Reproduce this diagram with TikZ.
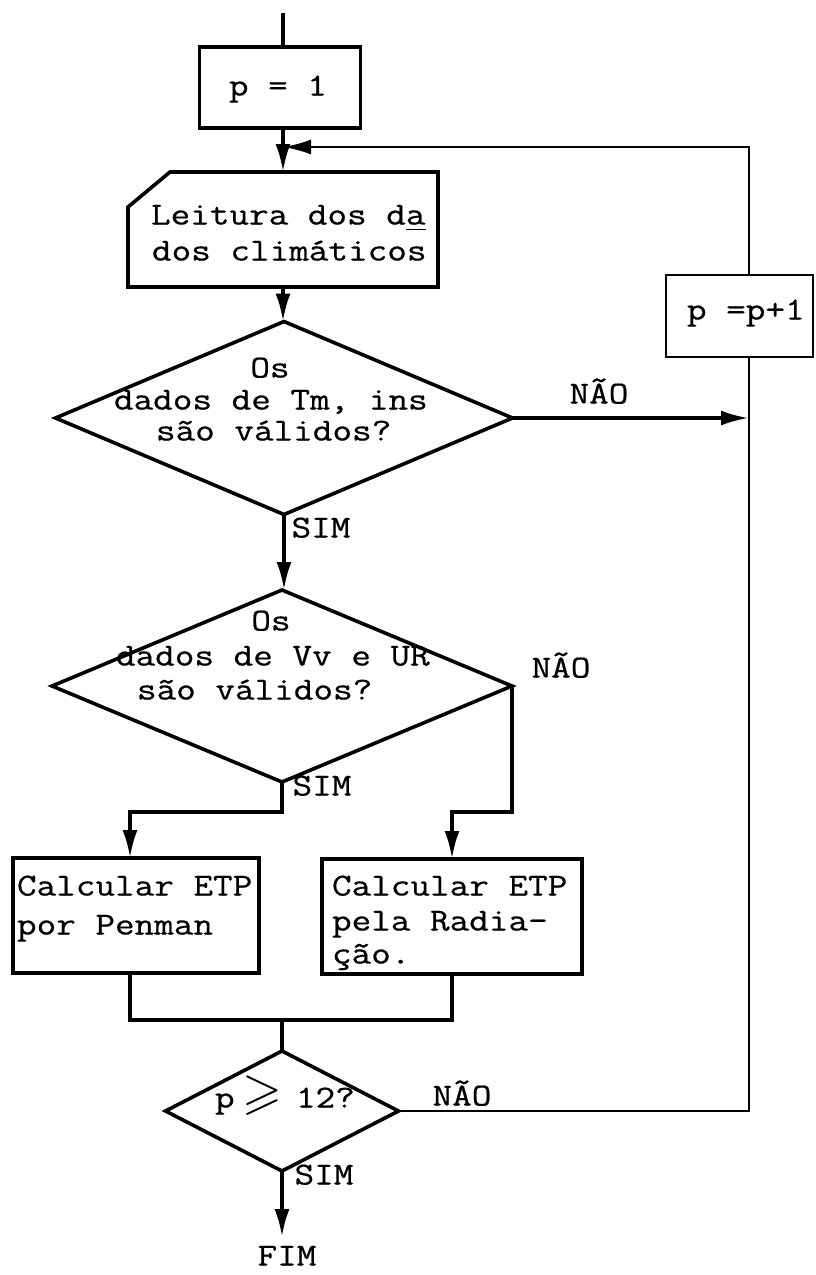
\documentclass[tikz,border=0pt]{standalone}
\usepackage{amssymb}
\usepackage{fontspec}
\newfontfamily\tw{Latin Modern Mono}[FakeStretch=1.19,FakeBold=0.6]
\usetikzlibrary{shapes.geometric,arrows.meta}
\begin{document}
\begin{tikzpicture}[x=1pt,y=-1pt,
  line width=3.6pt,
  every node/.style={inner sep=0pt, outer sep=0pt},
  txt/.style={font=\tw\fontsize{32}{33}\selectfont, text height=0.5em, text depth=0pt},
  procbox/.style={draw, rectangle},
  decision/.style={draw, diamond},
  conn/.style={line width=3.6pt},
  thin conn/.style={line width=2.6pt},
  arr/.style={-{Latex[length=28pt,width=15pt]}}
]
\useasboundingbox (0,0) rectangle (816,1275);

% shapes
\node[procbox, minimum width=161pt, minimum height=81pt] (p1) at (280,87.5) {};
\node[minimum width=310pt, minimum height=115pt] (leitura) at (283,229.5) {};
\draw (leitura.south west) -- ([yshift=-35pt]leitura.north west) -- ([xshift=42pt]leitura.north west)
      -- (leitura.north east) -- (leitura.south east) -- cycle;
\node[decision, minimum width=457pt, minimum height=193pt] (d1) at (284,418) {};
\node[decision, minimum width=460pt, minimum height=192pt] (d2) at (282,686) {};
\node[procbox, minimum width=246pt, minimum height=115pt] (penman) at (136,915.5) {};
\node[procbox, minimum width=260pt, minimum height=115pt] (rad) at (452,916.5) {};
\node[decision, minimum width=233pt, minimum height=120pt] (d3) at (282,1111) {};
\node[procbox, thin conn, minimum width=147pt, minimum height=82pt] (pp1) at (739.5,316) {};

% coordinates
\coordinate (start) at (283,13);
\coordinate (join) at (283,147);
\coordinate (lt) at (749,147);
\coordinate (branchy) at (0,812);
\coordinate (mergey) at (0,1020);
\coordinate (endpt) at (282,1237);

% texts
\node[txt] (t1) at (278,93) {p = 1};
\node[txt, anchor=west] (t2a) at (151,222) {Leitura dos d\underline{a}};
\node[txt, anchor=west] (t2b) at (152,258) {dos climáticos};
\node[txt] (t3a) at (270,375) {Os};
\node[txt, anchor=west] (t3b) at (114,407) {dados de Tm, ins};
\node[txt, anchor=west] (t3c) at (156,438) {são válidos?};
\node[txt] (t4a) at (271,628) {Os};
\node[txt, anchor=west] (t4b) at (116,663) {dados de Vv e UR};
\node[txt, anchor=west] (t4c) at (137,697) {são válidos?};
\node[txt, anchor=west] (t5a) at (17,893) {Calcular ETP};
\node[txt, anchor=west] (t5b) at (17,932) {por Penman};
\node[txt, anchor=west] (t6a) at (332,893) {Calcular ETP};
\node[txt, anchor=west] (t6b) at (332,928) {pela Radia-};
\node[txt, anchor=west] (t6c) at (332,961) {ção.};
\node[txt, anchor=west] (t7a) at (215,1105) {p};
\node[txt] (t7b) at (262,1106) {\scalebox{1.6}{$\geqslant$}};
\node[txt, anchor=west] (t7c) at (296,1105) {12?};
\node[txt, anchor=west] (t8) at (687,317) {p =p+1};
\node[txt] (nao1) at (599,401) {NÃO};
\node[txt] (nao2) at (561,675) {NÃO};
\node[txt] (nao3) at (462,1103) {NÃO};
\node[txt] (sim1) at (321,535) {SIM};
\node[txt] (sim2) at (322,793) {SIM};
\node[txt] (sim3) at (324,1182) {SIM};
\node[txt] (fim) at (287,1263) {FIM};

% connectors
\draw[line width=4.8pt] (start) -- (start |- p1.north);
\draw[conn, arr] (start |- p1.south) -- (leitura.north);
\draw[thin conn, arr] (pp1.north -| lt) -- (lt) -- (join);
\draw[conn, arr] (leitura.south) -- (leitura.south |- d1.north);
\draw[conn, arr] (d1.east) -- (d1.east -| lt);
\draw[conn, arr] (d1.south) -- (d1.south |- d2.north);
\draw[conn, arr] (d2.south) -- (d2.south |- branchy) -| ([xshift=-6pt]penman.north);
\draw[conn, arr] (d2.east) -- (d2.east |- branchy) -| (rad.north);
\draw[conn] ([xshift=-6pt]penman.south) -- ([xshift=-6pt]penman.south |- mergey) -| (rad.south);
\draw[conn] (d3.north |- mergey) -- (d3.north);
\draw[thin conn] (d3.east) -- (d3.east -| lt) -- (pp1.south -| lt);
\draw[conn, arr] (d3.south) -- (endpt);
\end{tikzpicture}
\end{document}
